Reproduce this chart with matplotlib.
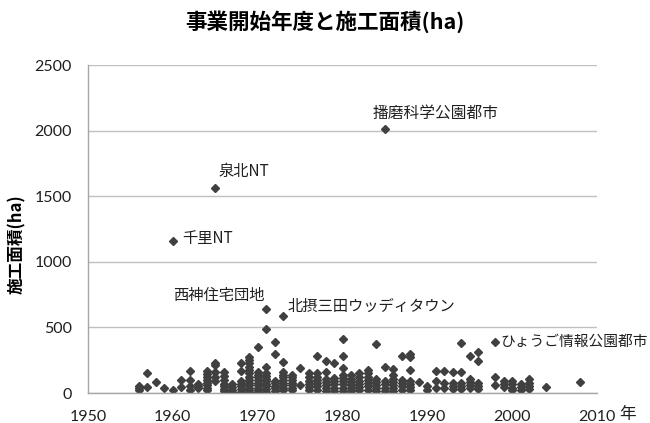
import matplotlib
matplotlib.use("Agg")
import matplotlib.pyplot as plt
import numpy as np

plt.rcParams['font.family'] = ['Lato', 'Noto Sans CJK JP', 'DejaVu Sans']

# start year of each column and the areas (ha) plotted in it
col_years = [1956, 1957, 1958, 1959, 1960, 1961, 1962, 1963, 1964, 1965,
             1966, 1967, 1968, 1969, 1970, 1971, 1972, 1973, 1974, 1975,
             1976, 1977, 1978, 1979, 1980, 1981, 1982, 1983, 1984, 1985,
             1986, 1987, 1988, 1989, 1990, 1991, 1992, 1993, 1994, 1995,
             1996, 1998, 1999, 2000, 2001, 2002, 2004, 2008]
col_areas = [
    [55, 40, 25], [155, 45], [85], [40], [20], [100, 45],
    [170, 100, 55, 25], [65, 50, 35],
    [170, 145, 120, 100, 80, 60, 40, 20],
    [230, 210, 160, 120, 90],
    [160, 130, 100, 70, 50, 30, 15],
    [65, 45, 25, 10],
    [230, 166, 90, 70, 50, 30, 10],
    [275, 250, 225, 200, 175, 150, 125, 100, 80, 60, 40, 20, 5],
    [350, 160, 140, 120, 100, 80, 60, 40, 25, 10],
    [490, 200, 150, 130, 110, 90, 70, 50, 30, 10],
    [390, 300, 95, 75, 55, 35, 15],
    [240, 160, 140, 120, 100, 80, 60, 40, 20],
    [140, 120, 100, 80, 60, 40, 20],
    [190, 60],
    [150, 120, 95, 70, 45, 20],
    [280, 150, 125, 100, 75, 50, 25],
    [245, 160, 110, 85, 60, 35, 15],
    [225, 115, 90, 65, 40, 15],
    [415, 280, 190, 140, 115, 90, 65, 40, 15],
    [140, 110, 85, 60, 35, 15],
    [150, 120, 95, 70, 45, 20],
    [175, 150, 125, 100, 75, 50, 25],
    [375, 110, 85, 60, 35, 15],
    [195, 90, 65, 40, 15],
    [180, 140, 110, 85, 60, 35, 15],
    [285, 100, 75, 50, 25],
    [300, 275, 175, 95, 70, 45, 20],
    [85], [55, 25], [165, 95, 35], [165, 75, 40], [160, 80, 55, 30],
    [380, 160, 80, 55, 30], [285, 110, 85, 60, 35], [315, 245, 80, 55, 30],
    [125, 60], [95, 70, 45], [90, 65, 40, 20], [65, 45, 25],
    [105, 80, 55, 30], [45], [85],
]

# named projects
names = ['播磨科学公園都市', '泉北NT', '千里NT', '西神住宅団地',
         '北摂三田ウッディタウン', 'ひょうご情報公園都市']
name_years = [1985, 1965, 1960, 1971, 1973, 1998]
name_areas = [2010, 1565, 1160, 640, 590, 390]
# label offsets in points from the marker, and font sizes
name_offsets = [(-9, 11.5), (2, 12), (6.5, 2), (-67, 10), (3.5, 7), (4, 0)]
name_sizes = [11.3, 11, 11, 11, 11, 10.6]

years = np.concatenate([[y] * len(a) for y, a in zip(col_years, col_areas)])
areas = np.concatenate(col_areas)

fig = plt.figure(figsize=(6.5, 4.23), dpi=100)
ax = fig.add_axes([0.1354, 0.0709, 0.9185 - 0.1354, 0.8463 - 0.0709])

mk = dict(marker='D', ms=3.6, color='#404040', linestyle='none')
ax.plot(years, areas, **mk)
ax.plot(name_years, name_areas, **mk)

for n, x, y, off, fs in zip(names, name_years, name_areas, name_offsets,
                            name_sizes):
    ax.annotate(n, (x, y), xytext=off, textcoords='offset points',
                ha='left', va='center', fontsize=fs, color='#202020',
                family=['Noto Sans CJK JP'])

ax.set_xlim(1950, 2010)
ax.set_ylim(0, 2500)
ax.set_xticks(range(1950, 2011, 10))
ax.set_yticks(range(0, 2501, 500))
ax.grid(axis='y', color='#c0c0c0', linewidth=1)
ax.set_axisbelow(True)
for s in ['top', 'right']:
    ax.spines[s].set_visible(False)
for s in ['left', 'bottom']:
    ax.spines[s].set_color('#a6a6a6')
    ax.spines[s].set_linewidth(1)
ax.tick_params(length=0, labelsize=11.5, labelcolor='#202020')
ax.tick_params(axis='y', pad=11.5)
ax.tick_params(axis='x', pad=12)

ax.set_ylabel('施工面積(ha)', fontsize=12, fontweight='bold',
              family=['Noto Sans CJK JP'])
ax.yaxis.set_label_coords(-0.122, 0.454)

fig.text(0.5, 0.948, '事業開始年度と施工面積(ha)', ha='center', va='center',
         fontsize=15.5, fontweight='bold', family=['Noto Sans CJK JP'])
fig.text(628 / 650, 1 - 414 / 423, '年', ha='center', va='center',
         fontsize=12, color='#202020', family=['Noto Sans CJK JP'])

fig.savefig('out.png', dpi=100)
